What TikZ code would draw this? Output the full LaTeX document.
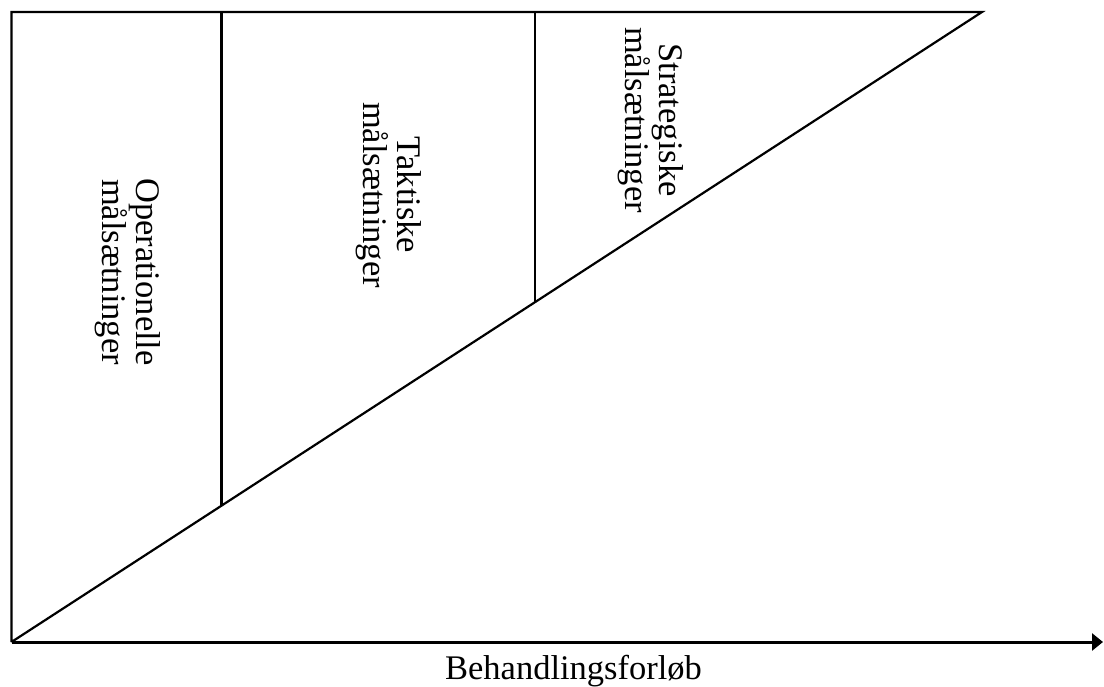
\documentclass[tikz,border=0pt]{standalone}
\usepackage{fontspec}
\setmainfont{Liberation Serif}
\usetikzlibrary{arrows.meta, positioning}

\begin{document}
\begin{tikzpicture}[x=1pt, y=-1pt,
frame_line/.style={line width=2.2pt},
axis_line/.style={line width=3pt, -{Triangle[length=11pt, width=17pt]}},
goal_txt/.style={rotate=-90, align=center, inner sep=0pt, font=\fontsize{34.5}{34}\selectfont},
axis_txt/.style={inner sep=0pt, anchor=base, font=\fontsize{34.5}{40}\selectfont}
]
\useasboundingbox (0,0) rectangle (1104,687);

% Corners of the triangle
    \coordinate (origin) at (11.5,642);
    \coordinate (top_left) at (11.5,12);
    \coordinate (top_right) at (982,12);
    \coordinate (axis_end) at (1103,642);

% Column borders
    \coordinate (tak_top) at (221.5,12);
    \coordinate (tak_bot) at (221.5,505.7);
    \coordinate (str_top) at (535,12);
    \coordinate (str_bot) at (535,302.2);

% Draw frame
    \draw[frame_line, line join=miter] (origin) -- (top_left) -- (top_right) -- (origin);
    \draw[frame_line] (tak_top) -- (tak_bot);
    \draw[frame_line] (str_top) -- (str_bot);

% Draw axis
    \draw[axis_line] (origin) -- (axis_end);
    \node[axis_txt] (forloeb) at (573.5,679) {Behandlingsforløb};

% Draw goal labels
    \node[goal_txt] (oper) at (128,272) {Operationelle\\målsætninger};
    \node[goal_txt] (takt) at (389,195) {Taktiske\\målsætninger};
    \node[goal_txt] (strat) at (651,120) {Strategiske\\målsætninger};
\end{tikzpicture}
\end{document}
